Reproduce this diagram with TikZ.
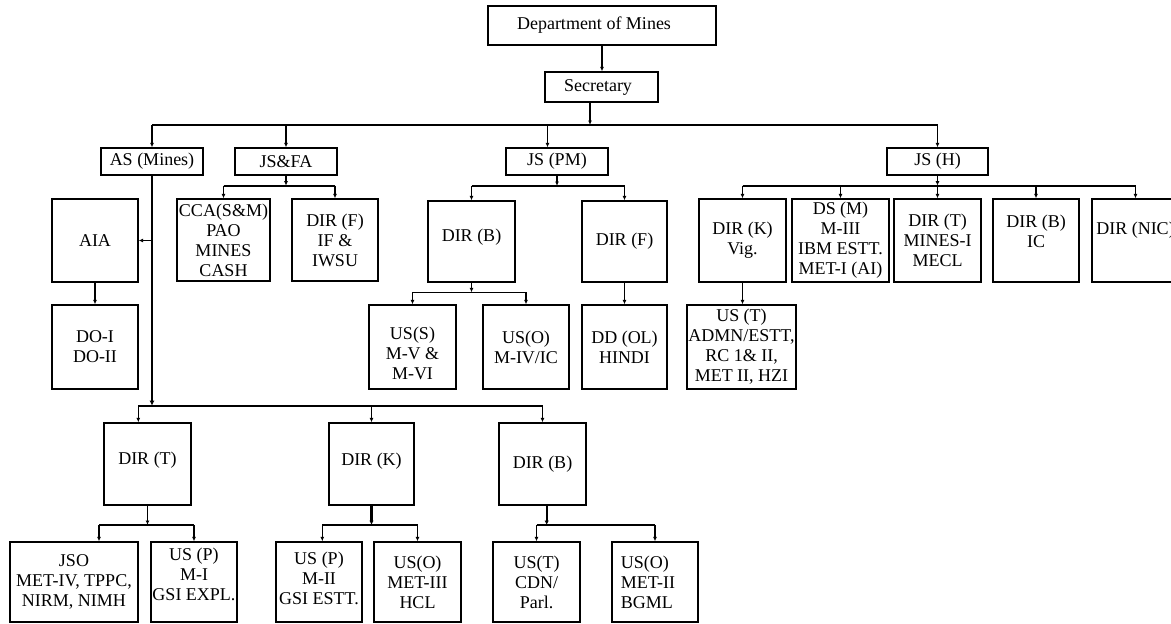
\documentclass[tikz,border=0pt]{standalone}
\usepackage{fontspec}
\setmainfont{Liberation Serif}
\usetikzlibrary{arrows.meta}
\begin{document}
\begin{tikzpicture}[x=1pt,y=-1pt,
  box/.style={draw=black,line width=1.3pt,inner sep=0pt,align=center,font=\fontsize{18}{20}\selectfont},
  txt/.style={inner sep=0pt,align=center,font=\fontsize{18}{20}\selectfont},
  wh/.style 2 args={minimum width=#1pt,minimum height=#2pt},
  conn/.style={line width=1.6pt},
  arr/.style={conn,-{Latex[length=4.5pt,width=4pt]}},
  trunk/.style={line width=2.6pt,-{Latex[length=5pt,width=5pt]}},
  stem/.style={line width=2.2pt,-{Latex[length=4.5pt,width=4.5pt]}}]
\useasboundingbox (0,0) rectangle (1171,624);

% ---- top levels
\node[box,wh={228}{39}] (dom) at (602,25.5) {};
\node[txt] (domt) at ([xshift=-8pt]dom.center) {Department of Mines};
\node[box,wh={113}{30}] (sec) at (601.5,87) {};
\node[txt] (sect) at ([xshift=-3.5pt]sec.center) {Secretary};
\node[box,wh={102}{27}] (asm) at (152,161.5) {AS (Mines)};
\node[box,wh={102}{27}] (jsfa) at (286,161.5) {JS\&FA};
\node[box,wh={102}{27}] (jspm) at (557,161.5) {JS (PM)};
\node[box,wh={101}{27}] (jsh) at (937.5,161.5) {JS (H)};

% ---- AS (Mines) side
\node[box,wh={86}{83}] (aia) at (95,240.5) {AIA};
\node[box,wh={86}{84}] (do) at (95,347) {DO-I\\DO-II};

% ---- JS&FA children
\node[box,wh={93}{82}] (cca) at (223.5,240) {CCA(S\&M)\\PAO\\MINES\\CASH};
\node[box,wh={86}{82}] (dirfa) at (335,240) {DIR (F)\\IF \&\\IWSU};

% ---- JS(PM) children
\node[box,wh={87}{81}] (dirbpm) at (471.5,241.5) {};
\node[txt] (dirbpmt) at ([yshift=4pt]dirbpm.center) {DIR (B)};
\node[box,wh={85}{81}] (dirfpm) at (624.5,241.5) {DIR (F)};
\node[box,wh={87}{84}] (uss) at (412.5,347) {};
\node[txt] (usst) at ([yshift=-6pt]uss.center) {US(S)\\M-V \&\\M-VI};
\node[box,wh={86}{84}] (uso1) at (526,347) {US(O)\\M-IV/IC};
\node[box,wh={85}{84}] (dd) at (624.5,347) {DD (OL)\\HINDI};

% ---- JS(H) children
\node[box,wh={87}{83}] (dirkh) at (742.5,240.5) {DIR (K)\\Vig.};
\node[box,wh={97}{83}] (dsm) at (840.5,240.5) {DS (M)\\M-III\\IBM ESTT.\\MET-I (AI)};
\node[box,wh={87}{83}] (dirth) at (937.5,240.5) {DIR (T)\\MINES-I\\MECL};
\node[box,wh={86}{83}] (dirbh) at (1036,240.5) {};
\node[txt] (dirbht) at ([yshift=9.5pt]dirbh.center) {DIR (B)\\IC};
\node[box,wh={87}{83}] (dirnic) at (1135.5,240.5) {};
\node[txt] (dirnict) at ([yshift=10.5pt]dirnic.center) {DIR (NIC)};
\node[box,wh={109}{84}] (ust) at (741.5,347) {US (T)\\ADMN/ESTT,\\RC 1\& II,\\MET II, HZI};

% ---- lower directors
\node[box,wh={87}{82}] (dirt2) at (147.5,464) {};
\node[txt] (dirt2t) at ([yshift=4pt]dirt2.center) {DIR (T)};
\node[box,wh={85}{82}] (dirk2) at (371.5,464) {};
\node[txt] (dirk2t) at ([yshift=2.5pt]dirk2.center) {DIR (K)};
\node[box,wh={87}{82}] (dirb3) at (542.5,464) {DIR (B)};

% ---- bottom row
\node[box,wh={128}{80}] (jso) at (74,582) {JSO\\MET-IV, TPPC,\\NIRM, NIMH};
\node[box,wh={86}{80}] (usp1) at (194,582) {};
\node[txt] (usp1t) at ([yshift=8pt]usp1.center) {US (P)\\M-I\\GSI EXPL.};
\node[box,wh={86}{80}] (usp2) at (319,582) {};
\node[txt] (usp2t) at ([yshift=4pt]usp2.center) {US (P)\\M-II\\GSI ESTT.};
\node[box,wh={87}{80}] (uso2) at (417.5,582) {US(O)\\MET-III\\HCL};
\node[box,wh={87}{80}] (ust2) at (536.5,582) {US(T)\\CDN/\\Parl.};
\node[box,wh={86}{80}] (uso3) at (655,582) {};
\node[txt,align=left] (uso3t) at ([xshift=-7pt]uso3.center) {US(O)\\MET-II\\BGML};

% ================= connectors
\draw[arr] (dom.south) -- (dom.south |- sec.north);

\coordinate (secdrop) at ([xshift=-11.5pt]sec.south);
\coordinate (mainbus) at (590,125);
\draw[arr] (secdrop) -- (mainbus);
\draw[conn] (mainbus -| asm) -- (mainbus -| jsh);
\draw[arr] (mainbus -| asm) -- (asm);
\draw[arr] (mainbus -| jsfa) -- (jsfa);
\coordinate (pmdrop) at ([xshift=-9.5pt]jspm.north);
\draw[arr] (mainbus -| pmdrop) -- (pmdrop);
\draw[arr] (mainbus -| jsh) -- (jsh);

% AS trunk
\coordinate (lowbus) at (152,405.7);
\draw[trunk] (asm) -- (lowbus);
\draw[arr] (asm.south |- aia.east) -- (aia.east);
\draw[arr] (aia) -- (do);
\coordinate (dirt2drop) at ([xshift=-9.2pt]dirt2.north);
\draw[conn] (lowbus -| dirt2drop) -- (lowbus -| dirb3);
\draw[arr] (lowbus -| dirt2drop) -- (dirt2drop);
\draw[arr] (lowbus -| dirk2) -- (dirk2);
\draw[arr] (lowbus -| dirb3) -- (dirb3);

% JS&FA
\coordinate (fabus) at (286,185.7);
\draw[arr] (jsfa) -- (fabus);
\draw[conn] (fabus -| cca) -- (fabus -| dirfa);
\draw[arr] (fabus -| cca) -- (cca);
\draw[arr] (fabus -| dirfa) -- (dirfa);

% JS(PM)
\coordinate (pmbus) at (557,186);
\draw[arr] (jspm) -- (pmbus);
\draw[conn] (pmbus -| dirbpm) -- (pmbus -| dirfpm);
\draw[arr] (pmbus -| dirbpm) -- (dirbpm);
\draw[arr] (pmbus -| dirfpm) -- (dirfpm);
\coordinate (bbus) at (471.5,292.3);
\draw[arr] (dirbpm) -- (bbus);
\draw[conn] (bbus -| uss) -- (bbus -| uso1);
\draw[arr] (bbus -| uss) -- (uss);
\draw[arr] (bbus -| uso1) -- (uso1);
\draw[arr] (dirfpm) -- (dd);

% JS(H)
\coordinate (hbus) at (937.5,185.7);
\draw[arr] (jsh) -- (hbus);
\draw[conn] (hbus -| dirkh) -- (hbus -| dirnic);
\draw[arr] (hbus -| dirkh) -- (dirkh);
\draw[arr] (hbus -| dsm) -- (dsm);
\draw[arr] (hbus -| dirth) -- (dirth);
\draw[arr] (hbus -| dirbh) -- (dirbh);
\draw[arr] (hbus -| dirnic) -- (dirnic);
\draw[arr] (dirkh.south) -- (dirkh.south |- ust.north);

% lower children
\coordinate (tbus) at (147.5,525);
\draw[arr] (dirt2) -- (tbus);
\coordinate (jsodrop) at ([xshift=25pt]jso.north);
\draw[conn] (tbus -| jsodrop) -- (tbus -| usp1);
\draw[arr] (tbus -| jsodrop) -- (jsodrop);
\draw[arr] (tbus -| usp1) -- (usp1);

\coordinate (kbus) at (371.5,525);
\draw[stem] (dirk2) -- (kbus);
\coordinate (usp2drop) at ([xshift=3.3pt]usp2.north);
\draw[conn] (kbus -| usp2drop) -- (kbus -| uso2);
\draw[arr] (kbus -| usp2drop) -- (usp2drop);
\draw[arr] (kbus -| uso2) -- (uso2);

\coordinate (b3drop) at ([xshift=4.2pt]dirb3.south);
\coordinate (b3bus) at (546.7,525);
\draw[stem] (b3drop) -- (b3bus);
\draw[conn] (b3bus -| ust2) -- (b3bus -| uso3);
\draw[arr] (b3bus -| ust2) -- (ust2);
\draw[arr] (b3bus -| uso3) -- (uso3);
\end{tikzpicture}
\end{document}
